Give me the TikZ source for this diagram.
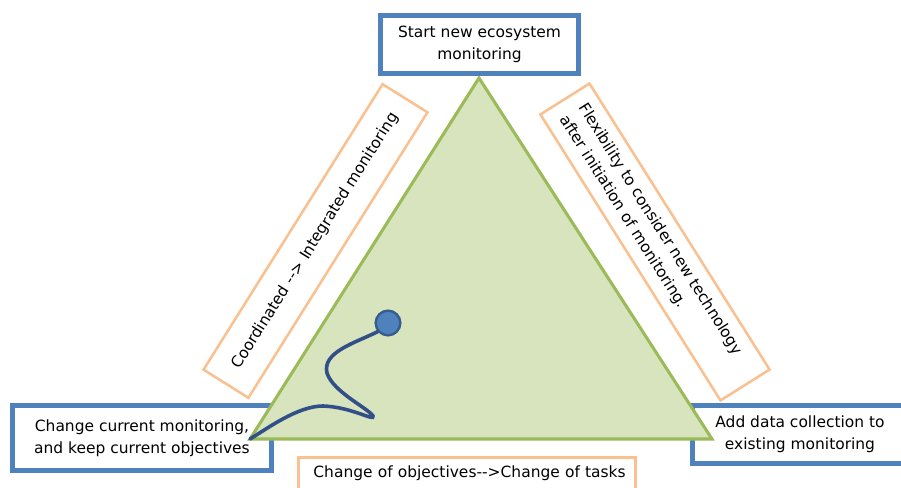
\documentclass[tikz,border=0pt]{standalone}
\usepackage{fontspec}
\setmainfont{DejaVu Sans}
\definecolor{bblue}{RGB}{79,129,189}
\definecolor{oedge}{RGB}{250,192,144}
\definecolor{gfill}{RGB}{215,228,189}
\definecolor{gedge}{RGB}{155,187,89}
\definecolor{sq}{RGB}{50,80,135}
\definecolor{dotedge}{RGB}{56,93,138}
\begin{document}
\begin{tikzpicture}[x=0.75pt,y=-0.75pt,
  every node/.style={font=\fontsize{11.6}{16.5}\selectfont, text=black},
  bbox/.style={draw=bblue, line width=3.75pt, fill=white, align=center, inner sep=0pt},
  obox/.style={draw=oedge, line width=1.9pt, fill=white, inner sep=0pt},
]
\useasboundingbox (0,0) rectangle (901,488);
% triangle
\coordinate (ta) at (479,78);
\coordinate (tl) at (250,439);
\coordinate (tr) at (712,439);
% rotated orange boxes
\node[obox, rotate=57.9, minimum width=252.75pt, minimum height=39.75pt] (lo) at (315.5,241) {Coordinated -{}-{}> Integrated monitoring};
\node[obox, rotate=-57.8, minimum width=253.5pt, minimum height=43.5pt, text width=232pt, align=left, inner xsep=10.5pt] (ro) at (655,242) {Flexibility to consider new technology\\after initiation of monitoring.};
% bottom orange box
\node[obox, anchor=north west, minimum width=252.75pt, text width=230pt, align=left, inner xsep=10.5pt, inner ysep=6pt] (bo) at (297,456) {\makebox[230pt][l]{Change of objectives-{}-{}>Change of tasks}\\ \mbox{}};
% blue boxes
\node[bbox, minimum width=194pt, minimum height=48.75pt] (lb) at (142,438) {Change current monitoring,\\and keep current objectives};
\node[bbox, minimum width=161pt, minimum height=43.5pt] (rb) at (800,434.5) {Add data collection to\\existing monitoring};
% triangle on top
\draw[gedge, fill=gfill, line width=2.3pt, line join=miter] (ta) -- (tr) -- (tl) -- cycle;
\node[bbox, minimum width=148.5pt, minimum height=43.5pt] (top) at (479.5,44.5) {Start new ecosystem\\monitoring};
% squiggle
\node[circle, fill=bblue, draw=dotedge, line width=1.8pt, minimum size=18.5pt, inner sep=0pt] (dot) at (388,323) {};
\draw[sq, line width=2.7pt, line cap=round] (dot.220) .. controls (355,343) and (322,352) .. (327,373)
  .. controls (333,392) and (368,408) .. (373,416)
  .. controls (375,422) and (352,407) .. (323,406)
  .. controls (298,406) and (268,428) .. (tl);
\end{tikzpicture}
\end{document}
